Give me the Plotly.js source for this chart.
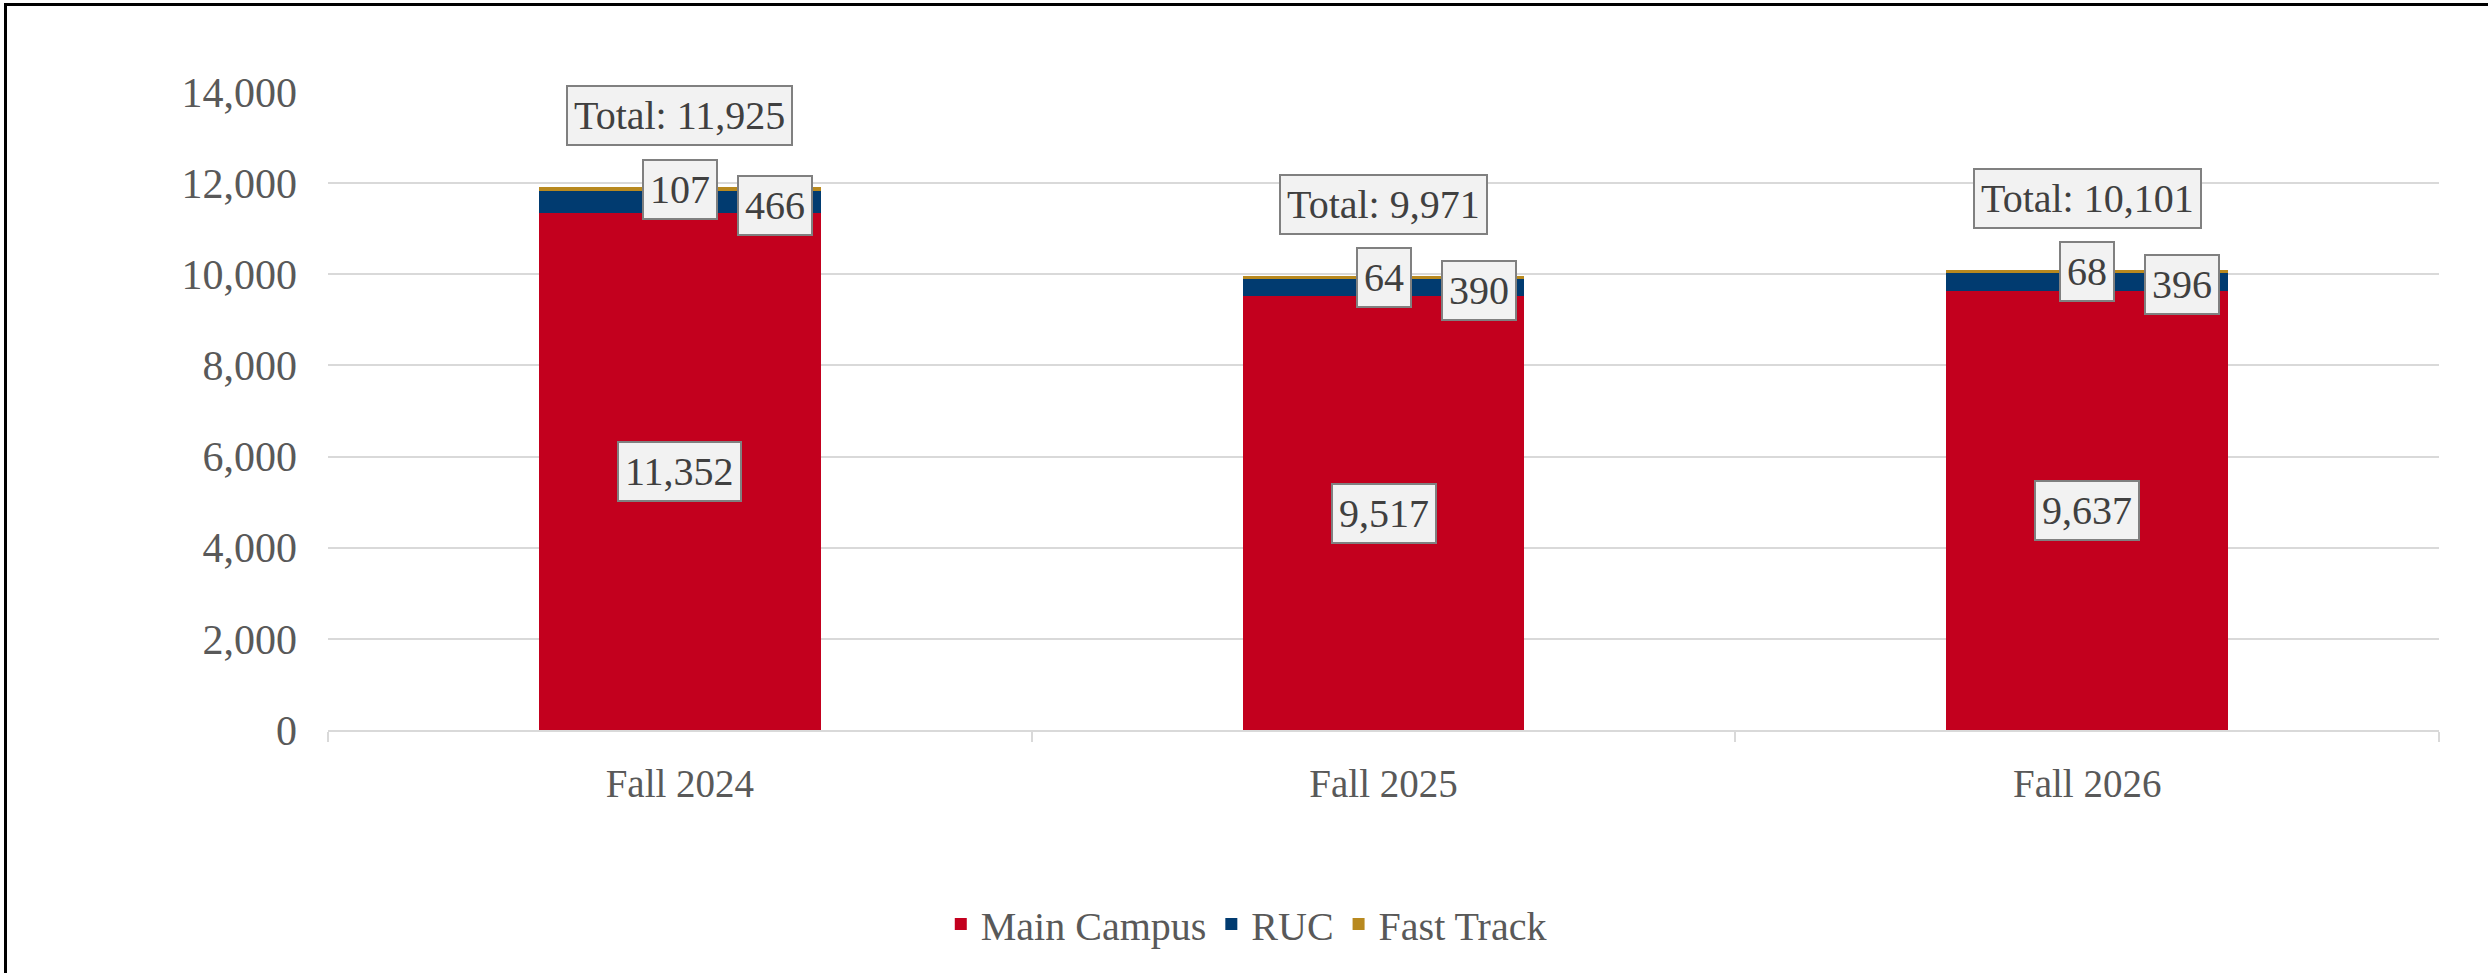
<!DOCTYPE html>
<html>
<head>
<meta charset="utf-8">
<script src="https://cdn.plot.ly/plotly-3.0.1.min.js"></script>
<style>
  body { margin: 0; background: #fff; }
  #chart { position: absolute; left: 0; top: 0; width: 2488px; height: 973px; }
  #frame { position: absolute; left: 4px; top: 3px; width: 2484px; height: 970px;
           border-top: 3px solid #000; border-left: 3px solid #000; pointer-events: none; }
</style>
</head>
<body>
<div id="chart"></div>
<div id="frame"></div>
<script>
// data
var terms = ['Fall 2024', 'Fall 2025', 'Fall 2026'];
var mainCampus = [11352, 9517, 9637];
var ruc = [466, 390, 396];
var fastTrack = [107, 64, 68];
var totals = [11925, 9971, 10101];

var FONT = '"Liberation Serif", "DejaVu Serif", serif';
var fmt = function (v) { return v.toLocaleString('en-US'); };

// bar trace template
function barTrace(name, y, color) {
  return {
    type: 'bar',
    name: name,
    x: terms,
    y: y,
    marker: {color: color, line: {width: 0}},
    hoverinfo: 'name+y'
  };
}

var data = [
  barTrace('Main Campus', mainCampus, '#C3001E'),
  barTrace('RUC', ruc, '#013B70'),
  barTrace('Fast Track', fastTrack, '#B8891F')
];

// boxed labels like the Excel data callouts
function box(x, y, text, xshift, yshift) {
  return {
    x: x, y: y, xref: 'x', yref: 'y',
    text: text, showarrow: false,
    xshift: xshift || 0, yshift: yshift || 0,
    font: {family: FONT, size: 40, color: '#404040'},
    bgcolor: '#F2F2F2', bordercolor: '#808080', borderwidth: 2, borderpad: 6
  };
}

var annotations = [];
terms.forEach(function (t, i) {
  annotations.push(box(t, mainCampus[i] / 2, fmt(mainCampus[i])));
  annotations.push(box(t, mainCampus[i] + ruc[i] / 2, fmt(ruc[i]), 95, -3));
  annotations.push(box(t, mainCampus[i] + ruc[i] + fastTrack[i] / 2, fmt(fastTrack[i])));
  annotations.push(box(t, totals[i], 'Total: ' + fmt(totals[i]), 0, 71));
});

var layout = {
  width: 2488,
  height: 973,
  paper_bgcolor: '#fff',
  plot_bgcolor: '#fff',
  font: {family: FONT, size: 38, color: '#595959'},
  margin: {l: 328, r: 49, t: 92, b: 243},
  barmode: 'stack',
  bargap: 0.6,
  showlegend: true,
  legend: {
    orientation: 'h',
    x: 0.435, xanchor: 'center',
    y: -0.304, yanchor: 'middle',
    traceorder: 'normal',
    itemwidth: 30,
    font: {family: FONT, size: 40, color: '#595959'}
  },
  xaxis: {
    type: 'category',
    showline: true,
    linecolor: '#D9D9D9',
    linewidth: 2,
    ticks: 'outside',
    tickson: 'boundaries',
    ticklen: 10,
    tickwidth: 2,
    tickcolor: '#D9D9D9',
    ticklabelstandoff: 18,
    tickfont: {size: 39},
    showgrid: false
  },
  yaxis: {
    range: [0, 14000],
    tickvals: [0, 2000, 4000, 6000, 8000, 10000, 12000, 14000],
    tickformat: ',d',
    showgrid: true,
    gridcolor: '#D9D9D9',
    gridwidth: 2,
    zeroline: false,
    showline: false,
    ticks: '',
    tickfont: {size: 42},
    ticklabelstandoff: 30
  },
  annotations: annotations
};

Plotly.newPlot('chart', data, layout, {displayModeBar: false, staticPlot: true});
</script>
</body>
</html>
